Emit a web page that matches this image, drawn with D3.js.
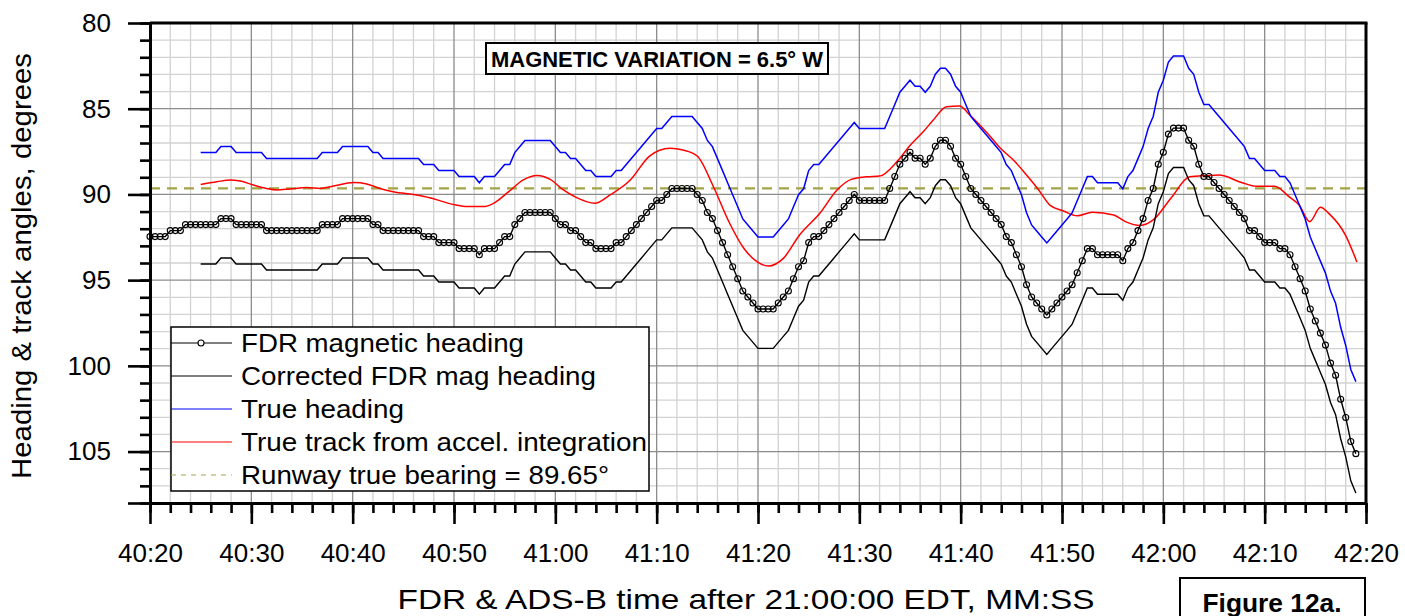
<!DOCTYPE html>
<html>
<head>
<meta charset="utf-8">
<script src="https://cdn.jsdelivr.net/npm/d3@7"></script>
<style>
    body { margin: 0; background: #fff; }
    svg { display: block; font-family: "Liberation Sans", Arial, sans-serif; }
</style>
</head>
<body>
<svg id="chart" width="1405" height="616"></svg>
<script>
// time is in seconds after 21:40:00 EDT
var xTicks = [20, 30, 40, 50, 60, 70, 80, 90, 100, 110, 120, 130, 140];
var xTickLabels = ["40:20", "40:30", "40:40", "40:50", "41:00", "41:10", "41:20",
                   "41:30", "41:40", "41:50", "42:00", "42:10", "42:20"];
var yTicks = [80, 85, 90, 95, 100, 105];
var yTickLabels = ["80", "85", "90", "95", "100", "105"];

var sampleStep = 0.5;      // FDR heading is recorded at 2 Hz

// FDR magnetic heading, 40:20.0 .. 42:19.0
var fdrStart = 20;
var fdrHeading = [
    92.46,92.46,92.46,92.46,92.11,92.11,92.11,91.76,91.76,91.76,91.76,91.76,91.76,91.76,91.41,91.41,91.41,91.76,91.76,91.76,
    91.76,91.76,91.76,92.11,92.11,92.11,92.11,92.11,92.11,92.11,92.11,92.11,92.11,92.11,91.76,91.76,91.76,91.76,91.41,91.41,
    91.41,91.41,91.41,91.41,91.76,91.76,92.11,92.11,92.11,92.11,92.11,92.11,92.11,92.11,92.46,92.46,92.46,92.81,92.81,92.81,
    92.81,93.16,93.16,93.16,93.16,93.52,93.16,93.16,93.16,92.81,92.46,92.46,91.76,91.41,91.05,91.05,91.05,91.05,91.05,91.05,
    91.41,91.76,91.76,92.11,92.11,92.46,92.81,92.81,93.16,93.16,93.16,93.16,92.81,92.81,92.46,92.11,91.76,91.41,91.05,90.70,
    90.35,90.35,90.00,89.65,89.65,89.65,89.65,89.65,90.00,90.35,91.05,91.41,92.11,92.81,93.52,94.22,94.92,95.63,95.98,96.33,
    96.68,96.68,96.68,96.68,96.33,95.98,95.63,94.92,94.22,93.87,92.81,92.46,92.46,92.11,91.76,91.41,91.05,90.70,90.35,90.00,
    90.35,90.35,90.35,90.35,90.35,90.35,89.65,88.95,88.24,87.89,87.54,87.89,87.89,88.24,87.89,87.19,86.84,86.84,87.19,87.89,
    88.24,88.95,89.65,90.00,90.35,90.70,91.05,91.41,91.76,92.46,92.81,93.52,94.22,95.27,95.98,96.33,96.68,97.03,96.68,96.33,
    95.98,95.63,95.27,94.57,93.87,93.16,93.16,93.52,93.52,93.52,93.52,93.52,93.87,93.16,92.81,92.11,91.41,90.35,89.65,88.24,
    87.54,86.48,86.13,86.13,86.13,86.84,87.19,88.24,88.95,88.95,89.30,89.65,90.00,90.35,90.70,91.05,91.41,92.11,92.11,92.46,
    92.81,92.81,92.81,93.16,93.16,93.52,94.22,94.92,95.63,96.68,97.38,98.09,98.79,99.84,100.55,101.95,103.01,104.41,105.12
];

// corrected FDR magnetic heading and true heading, 40:25.0 .. 42:19.0
var corrStart = 25;
var correctedHeading = [
    94.06,94.06,94.06,94.06,93.71,93.71,93.71,94.06,94.06,94.06,
    94.06,94.06,94.06,94.41,94.41,94.41,94.41,94.41,94.41,94.41,94.41,94.41,94.41,94.41,94.06,94.06,94.06,94.06,93.71,93.71,
    93.71,93.71,93.71,93.71,94.06,94.06,94.41,94.41,94.41,94.41,94.41,94.41,94.41,94.41,94.76,94.76,94.76,95.11,95.11,95.11,
    95.11,95.46,95.46,95.46,95.46,95.82,95.46,95.46,95.46,95.11,94.76,94.76,94.06,93.71,93.35,93.35,93.35,93.35,93.35,93.35,
    93.71,94.06,94.06,94.41,94.41,94.76,95.11,95.11,95.46,95.46,95.46,95.46,95.11,95.11,94.76,94.41,94.06,93.71,93.35,93.00,
    92.65,92.65,92.30,91.95,91.95,91.95,91.95,91.95,92.30,92.65,93.35,93.71,94.41,95.11,95.82,96.52,97.22,97.93,98.28,98.63,
    98.98,98.98,98.98,98.98,98.63,98.28,97.93,97.22,96.52,96.17,95.11,94.76,94.76,94.41,94.06,93.71,93.35,93.00,92.65,92.30,
    92.65,92.65,92.65,92.65,92.65,92.65,91.95,91.25,90.54,90.19,89.84,90.19,90.19,90.54,90.19,89.49,89.14,89.14,89.49,90.19,
    90.54,91.25,91.95,92.30,92.65,93.00,93.35,93.71,94.06,94.76,95.11,95.82,96.52,97.57,98.28,98.63,98.98,99.33,98.98,98.63,
    98.28,97.93,97.57,96.87,96.17,95.46,95.46,95.82,95.82,95.82,95.82,95.82,96.17,95.46,95.11,94.41,93.71,92.65,91.95,90.54,
    89.84,88.78,88.43,88.43,88.43,89.14,89.49,90.54,91.25,91.25,91.60,91.95,92.30,92.65,93.00,93.35,93.71,94.41,94.41,94.76,
    95.11,95.11,95.11,95.46,95.46,95.82,96.52,97.22,97.93,98.98,99.68,100.39,101.09,102.14,102.85,104.25,105.31,106.71,107.42
];
var trueHeading = [
    87.56,87.56,87.56,87.56,87.21,87.21,87.21,87.56,87.56,87.56,
    87.56,87.56,87.56,87.91,87.91,87.91,87.91,87.91,87.91,87.91,87.91,87.91,87.91,87.91,87.56,87.56,87.56,87.56,87.21,87.21,
    87.21,87.21,87.21,87.21,87.56,87.56,87.91,87.91,87.91,87.91,87.91,87.91,87.91,87.91,88.26,88.26,88.26,88.61,88.61,88.61,
    88.61,88.96,88.96,88.96,88.96,89.32,88.96,88.96,88.96,88.61,88.26,88.26,87.56,87.21,86.85,86.85,86.85,86.85,86.85,86.85,
    87.21,87.56,87.56,87.91,87.91,88.26,88.61,88.61,88.96,88.96,88.96,88.96,88.61,88.61,88.26,87.91,87.56,87.21,86.85,86.50,
    86.15,86.15,85.80,85.45,85.45,85.45,85.45,85.45,85.80,86.15,86.85,87.21,87.91,88.61,89.32,90.02,90.72,91.43,91.78,92.13,
    92.48,92.48,92.48,92.48,92.13,91.78,91.43,90.72,90.02,89.67,88.61,88.26,88.26,87.91,87.56,87.21,86.85,86.50,86.15,85.80,
    86.15,86.15,86.15,86.15,86.15,86.15,85.45,84.75,84.04,83.69,83.34,83.69,83.69,84.04,83.69,82.99,82.64,82.64,82.99,83.69,
    84.04,84.75,85.45,85.80,86.15,86.50,86.85,87.21,87.56,88.26,88.61,89.32,90.02,91.07,91.78,92.13,92.48,92.83,92.48,92.13,
    91.78,91.43,91.07,90.37,89.67,88.96,88.96,89.32,89.32,89.32,89.32,89.32,89.67,88.96,88.61,87.91,87.21,86.15,85.45,84.04,
    83.34,82.28,81.93,81.93,81.93,82.64,82.99,84.04,84.75,84.75,85.10,85.45,85.80,86.15,86.50,86.85,87.21,87.91,87.91,88.26,
    88.61,88.61,88.61,88.96,88.96,89.32,90.02,90.72,91.43,92.48,93.18,93.89,94.59,95.64,96.35,97.75,98.81,100.21,100.92
];

// true track from acceleration integration [time, degrees]
var trueTrack = [
    [25.0, 89.42], [26.6, 89.26], [27.9, 89.16], [28.9, 89.22], [30.2, 89.45], [31.5, 89.65], [32.5, 89.74],
    [33.8, 89.68], [35.5, 89.60], [36.8, 89.65], [38.1, 89.51], [40.1, 89.31], [41.4, 89.39], [42.7, 89.65],
    [44.0, 89.84], [46.3, 90.03], [47.6, 90.19], [48.9, 90.42], [50.2, 90.62], [51.3, 90.71], [52.9, 90.71],
    [53.9, 90.52], [55.4, 89.84], [56.8, 89.16], [58.2, 88.89], [59.5, 89.12], [60.8, 89.74], [62.1, 90.19],
    [63.9, 90.52], [65.4, 90.03], [67.4, 89.16], [69.3, 87.76], [71.3, 87.31], [72.6, 87.41], [74.0, 87.76],
    [75.6, 89.55], [77.2, 91.68], [78.6, 93.14], [79.9, 93.92], [81.0, 94.18], [82.5, 93.73], [84.1, 92.37],
    [86.1, 91.10], [87.8, 89.74], [89.2, 89.12], [90.7, 88.97], [92.0, 88.93], [93.7, 88.10], [95.0, 87.15],
    [96.3, 86.35], [97.3, 85.66], [98.6, 84.88], [99.9, 84.84], [100.9, 85.37], [102.6, 86.40], [103.9, 87.29],
    [105.3, 88.05], [106.5, 88.87], [107.7, 89.74], [108.8, 90.62], [110.1, 90.95], [111.5, 91.25], [113.0, 91.04],
    [115.1, 91.20], [116.3, 91.60], [117.7, 91.81], [119.0, 91.49], [120.8, 90.18], [122.6, 88.97], [124.3, 88.90],
    [125.5, 88.87], [127.7, 89.30], [129.2, 89.53], [131.0, 89.52], [132.4, 90.13], [133.4, 90.62], [134.45, 91.59],
    [135.5, 90.75], [136.4, 91.15], [138.0, 92.40], [139.1, 93.94]
];

var runwayBearing = 89.65;

var legendLabels = ["FDR magnetic heading", "Corrected FDR mag heading", "True heading",
                    "True track from accel. integration", "Runway true bearing = 89.65°"];

var svg = d3.select("#chart");

var x = d3.scaleLinear().domain([20, 140]).range([150, 1366]);
var y = d3.scaleLinear().domain([80, 108]).range([23, 503]);

// grid, minor then major
var grid = svg.append("g");
grid.selectAll(".vmin")
    .data(d3.range(22, 140, 2).filter(function(d) { return d % 10 !== 0; }))
    .enter().append("line")
    .attr("x1", function(d) { return x(d); }).attr("x2", function(d) { return x(d); })
    .attr("y1", y(80)).attr("y2", y(108))
    .attr("stroke", "#d2d2d2").attr("stroke-width", 1.3);
grid.selectAll(".hmin")
    .data(d3.range(81, 108, 1).filter(function(d) { return d % 5 !== 0; }))
    .enter().append("line")
    .attr("x1", x(20)).attr("x2", x(140))
    .attr("y1", function(d) { return y(d); }).attr("y2", function(d) { return y(d); })
    .attr("stroke", "#d2d2d2").attr("stroke-width", 1.3);
grid.selectAll(".vmaj")
    .data(xTicks.slice(1, -1))
    .enter().append("line")
    .attr("x1", function(d) { return x(d); }).attr("x2", function(d) { return x(d); })
    .attr("y1", y(80)).attr("y2", y(108))
    .attr("stroke", "#8c8c8c").attr("stroke-width", 1.3);
grid.selectAll(".hmaj")
    .data(yTicks.slice(1))
    .enter().append("line")
    .attr("x1", x(20)).attr("x2", x(140))
    .attr("y1", function(d) { return y(d); }).attr("y2", function(d) { return y(d); })
    .attr("stroke", "#8c8c8c").attr("stroke-width", 1.3);

// runway bearing
svg.append("line")
    .attr("x1", x(20)).attr("x2", x(140))
    .attr("y1", y(runwayBearing)).attr("y2", y(runwayBearing))
    .attr("stroke", "#a3a347").attr("stroke-width", 2.2)
    .attr("stroke-dasharray", "10,7");

function sampled(start) {
    return d3.line()
        .x(function(d, i) { return x(start + i * sampleStep); })
        .y(function(d) { return y(d); });
}

svg.append("path")
    .datum(trueTrack)
    .attr("d", d3.line().curve(d3.curveMonotoneX)
        .x(function(d) { return x(d[0]); })
        .y(function(d) { return y(d[1]); }))
    .attr("fill", "none").attr("stroke", "#ff0000").attr("stroke-width", 1.5);

svg.append("path")
    .datum(trueHeading)
    .attr("d", sampled(corrStart))
    .attr("fill", "none").attr("stroke", "#0000ff").attr("stroke-width", 1.5);

svg.append("path")
    .datum(correctedHeading)
    .attr("d", sampled(corrStart))
    .attr("fill", "none").attr("stroke", "#000").attr("stroke-width", 1.4);

svg.append("path")
    .datum(fdrHeading)
    .attr("d", sampled(fdrStart))
    .attr("fill", "none").attr("stroke", "#000").attr("stroke-width", 1.4);

svg.append("g").selectAll("circle")
    .data(fdrHeading)
    .enter().append("circle")
    .attr("cx", function(d, i) { return x(fdrStart + i * sampleStep); })
    .attr("cy", function(d) { return y(d); })
    .attr("r", 3)
    .attr("fill", "none").attr("stroke", "#000").attr("stroke-width", 1.1);

// axes
function styleAxis(g) {
    g.selectAll("line").attr("stroke-width", 2.6);
    g.select(".domain").attr("stroke-width", 3);
    g.selectAll("text").attr("font-size", 26).attr("font-family", "Liberation Sans, Arial, sans-serif");
}

svg.append("g")
    .attr("transform", "translate(0," + y(108) + ")")
    .call(d3.axisBottom(x).tickValues(d3.range(20, 141, 2)).tickSize(10).tickSizeOuter(0).tickFormat(""))
    .call(styleAxis);
svg.append("g")
    .attr("transform", "translate(0," + y(108) + ")")
    .call(d3.axisBottom(x).tickValues(xTicks).tickSize(21).tickSizeOuter(0).tickPadding(19.5)
        .tickFormat(function(d, i) { return xTickLabels[i]; }))
    .call(styleAxis);

svg.append("g")
    .attr("transform", "translate(" + x(20) + ",0)")
    .call(d3.axisLeft(y).tickValues(d3.range(80, 109, 1)).tickSize(10).tickSizeOuter(0).tickFormat(""))
    .call(styleAxis);
svg.append("g")
    .attr("transform", "translate(" + x(20) + ",0)")
    .call(d3.axisLeft(y).tickValues(yTicks.concat([108])).tickSize(22).tickSizeOuter(0).tickPadding(17)
        .tickFormat(function(d, i) { return yTickLabels[i] || ""; }))
    .call(styleAxis);

// top and right frame
svg.append("line").attr("x1", x(20)).attr("x2", x(140) + 1.5)
    .attr("y1", y(80)).attr("y2", y(80))
    .attr("stroke", "#000").attr("stroke-width", 3);
svg.append("line").attr("x1", x(140)).attr("x2", x(140))
    .attr("y1", y(80)).attr("y2", y(108))
    .attr("stroke", "#000").attr("stroke-width", 3);

// axis titles
svg.append("text")
    .attr("transform", "translate(31,266) rotate(-90)")
    .attr("text-anchor", "middle")
    .attr("font-size", 28)
    .attr("textLength", 426).attr("lengthAdjust", "spacingAndGlyphs")
    .text("Heading & track angles, degrees");
svg.append("text")
    .attr("x", 746).attr("y", 609)
    .attr("text-anchor", "middle")
    .attr("font-size", 28)
    .attr("textLength", 697).attr("lengthAdjust", "spacingAndGlyphs")
    .text("FDR & ADS-B time after 21:00:00 EDT, MM:SS");

// note boxes
svg.append("rect").attr("x", 486).attr("y", 43).attr("width", 342).attr("height", 31)
    .attr("fill", "#fff").attr("stroke", "#000").attr("stroke-width", 2);
svg.append("text").attr("x", 657).attr("y", 66.5)
    .attr("text-anchor", "middle").attr("font-size", 22).attr("font-weight", "bold")
    .attr("textLength", 332).attr("lengthAdjust", "spacingAndGlyphs")
    .text("MAGNETIC VARIATION = 6.5° W");

svg.append("rect").attr("x", 1180).attr("y", 578).attr("width", 185).attr("height", 60)
    .attr("fill", "#fff").attr("stroke", "#000").attr("stroke-width", 2);
svg.append("text").attr("x", 1272).attr("y", 612)
    .attr("text-anchor", "middle").attr("font-size", 25).attr("font-weight", "bold")
    .attr("textLength", 139).attr("lengthAdjust", "spacingAndGlyphs")
    .text("Figure 12a.");

// legend
var legendStyle = [
    {color: "#000", marker: true, dash: null, width: 1.2},
    {color: "#000", marker: false, dash: null, width: 1.2},
    {color: "#0000ff", marker: false, dash: null, width: 1.2},
    {color: "#ff0000", marker: false, dash: null, width: 1.2},
    {color: "#a3a347", marker: false, dash: "5,5", width: 1.2}
];
var legendWidths = [283, 355, 163, 406, 368];

var legend = svg.append("g");
legend.append("rect").attr("x", 171).attr("y", 327).attr("width", 478).attr("height", 164)
    .attr("fill", "#fff").attr("stroke", "#000").attr("stroke-width", 1.5);

var row = legend.selectAll(".row")
    .data(legendLabels)
    .enter().append("g")
    .attr("transform", function(d, i) { return "translate(0," + (343 + i * 33) + ")"; });

row.append("line")
    .attr("x1", 171).attr("x2", 232).attr("y1", 0).attr("y2", 0)
    .attr("stroke", function(d, i) { return legendStyle[i].color; })
    .attr("stroke-width", function(d, i) { return legendStyle[i].width; })
    .attr("stroke-dasharray", function(d, i) { return legendStyle[i].dash; });

row.filter(function(d, i) { return legendStyle[i].marker; })
    .append("circle")
    .attr("cx", 201).attr("cy", 0).attr("r", 3)
    .attr("fill", "#fff").attr("stroke", "#000").attr("stroke-width", 1.1);

row.append("text")
    .attr("x", 241).attr("dy", "0.35em")
    .attr("font-size", 25)
    .attr("textLength", function(d, i) { return legendWidths[i]; })
    .attr("lengthAdjust", "spacingAndGlyphs")
    .text(function(d) { return d; });
</script>
</body>
</html>
